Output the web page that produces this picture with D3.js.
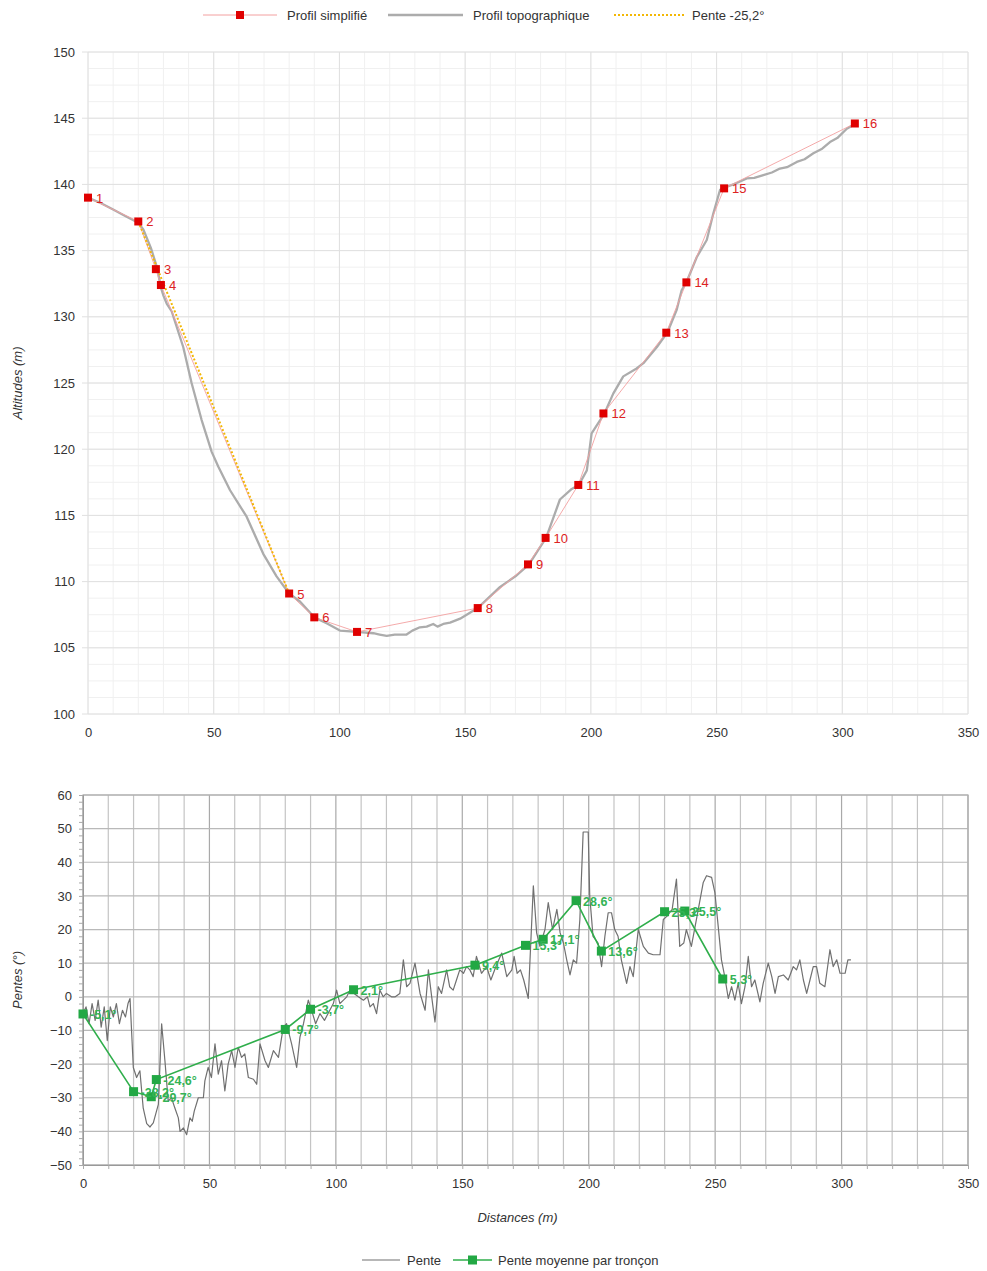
<!DOCTYPE html>
<html lang="fr">
    <head>
        <meta charset="utf-8">
        <title>Profil et pentes</title>
        <script src="https://d3js.org/d3.v7.min.js"></script>
        <style>
        body { margin: 0; background: #fff; }
        svg { font-family: "Liberation Sans", Arial, sans-serif; }
        .axis path { stroke: none; }
        .axis text { font-size: 13px; fill: #333; }
        .title { font-size: 13px; font-style: italic; fill: #333; }
        .legend text { font-size: 13px; fill: #333; }
        </style>
    </head>
    <body>
        <script>
        // points du profil simplifie (numerotes 1 a 16)
        const pointDist = [0, 20, 27, 29, 80, 90, 107, 155, 175, 182, 195, 205, 230, 238, 253, 305]
        const pointAlt = [139.0, 137.2, 133.6, 132.4, 109.1, 107.3, 106.2, 108.0, 111.3, 113.3, 117.3, 122.7, 128.8, 132.6, 139.7, 144.6]

        // profil topographique
        const topoDist = [0, 5, 10, 15, 20, 22, 25, 27, 28, 29, 30, 31.3, 33.3, 37.9, 41.2, 45.2, 49.2, 51.8, 56.5, 63.1, 69.7, 75, 80,
          84.3, 90, 94.9, 100.2, 107, 113.5, 116, 118.8, 122, 126.7, 129, 132, 134.7, 137.3, 139, 141.3, 144, 148, 155, 163.9, 170,
          175.4, 179.8, 182.2, 187.7, 192.4, 195.2, 198.4, 200.3, 203.7, 205.4, 208.9, 212.9, 218.2, 220.9, 226.2, 230.4, 234.1,
          236.1, 238.1, 242.1, 246.1, 248.7, 251.4, 253.1, 258, 262, 265, 268.6, 272, 275.2, 278, 281.9, 285, 288.5, 292, 295.1, 298, 301.8, 305.5]
        const topoAlt = [139.0, 138.6, 138.1, 137.6, 137.1, 136.6, 135.2, 134.0, 133.2, 132.2, 131.6, 131.0, 130.4, 127.7, 125.0, 122.2, 119.8, 118.7, 116.9, 114.9, 112.1, 110.4, 109.1,
          108.5, 107.3, 106.85, 106.3, 106.2, 106.1, 106.0, 105.9, 106.0, 106.0, 106.3, 106.55, 106.6, 106.8, 106.6, 106.8, 106.9, 107.2, 108.0, 109.6, 110.4,
          111.3, 112.6, 113.3, 116.2, 117.0, 117.3, 118.4, 121.2, 122.2, 122.7, 124.2, 125.5, 126.1, 126.5, 127.7, 128.8, 130.5,
          132.0, 132.65, 134.5, 135.8, 137.8, 139.6, 139.75, 140.1, 140.45, 140.5, 140.7, 140.9, 141.2, 141.3, 141.7, 141.9, 142.35, 142.7, 143.2, 143.5, 144.2, 144.6]

        // pente locale
        const slopeDist = [0, 1.2, 2.4, 3.6, 4.8, 6, 7.2, 8.4, 9.6, 10.8, 12, 13.2, 14.4, 15.6, 16.8, 17.8, 18.6, 19.9, 21.2, 22.5,
          23.8, 25.2, 26.5, 27.8, 29.8, 31.1, 32.4, 33.7, 35, 36.3, 37.7, 38.4, 39.7, 41, 42.3, 43.2, 44, 45.6, 47.6, 48.2,
          49.5, 50.8, 52.2, 53.5, 54.8, 56.1, 57.4, 58.8, 60.1, 61.4, 62.7, 64, 65.4, 67.4, 68.7, 70, 72, 73.3, 75.3, 77.3,
          79.2, 80.5, 82.5, 84.5, 85.8, 87.2, 89.1, 90.4, 92, 93.7, 95.5, 97.6, 99, 100.3, 101.6, 103, 104.3, 105.6, 107.2, 108.9,
          110.9, 112.5, 113.5, 114.8, 116.1, 117.4, 118.7, 120, 122, 123.5, 125.3, 126.7, 128, 129.3, 131.3, 133.3, 135.3, 136.6, 137.9, 139.2,
          140.5, 141.8, 143.8, 145, 146.4, 147.7, 149, 150.5, 151.7, 153, 154.3, 155.6, 157.6, 159.6, 161.3, 163.3, 165.6, 167.6, 169.6, 170.5,
          171.7, 173, 174.3, 176.1, 178.1, 179.4, 180.7, 182.7, 184, 185.7, 187.4, 188.7, 190, 191.3, 192.6, 193.9, 195.2, 196.5, 197.8, 199.8,
          200.4, 201.7, 203.7, 205.1, 206.4, 207.7, 209, 210.3, 211.6, 212.9, 215, 216.3, 217.6, 219.6, 221.6, 223.6, 225.5, 228.2, 229.5, 231,
          233, 234.7, 236, 237.6, 238.6, 240.6, 242.6, 245.3, 246.6, 248.6, 249.9, 251.2, 252.5, 253.8, 255.2, 256.5, 257.8, 259.1, 260.4, 261.8,
          263.1, 264.4, 265.7, 267.7, 269, 271, 272.4, 273.7, 275, 277, 278.9, 280.9, 282.2, 283.5, 284.9, 286.2, 287.5, 288.8, 290.1, 291.4,
          293.4, 295.4, 296.7, 298.1, 299.4, 301.4, 302.5, 303.7]
        const slopeVal = [-5, -3, -8, -2, -7, -1, -9, -3, -13, -3, -6, -2, -8, -4, -6, -2, -0.5, -21, -24, -22,
          -33, -37.7, -38.7, -37.5, -32, -8, -19, -31, -30, -33, -36, -40, -39, -41, -36, -37, -34, -30, -30, -25,
          -21, -24, -14, -23, -19, -28, -20, -16, -21, -15, -18, -17, -24, -24.5, -26, -14, -19, -21, -16, -18,
          -9, -8, -14, -21, -12, -8, -1, -4, -8, -5, -7, -4, -2, 2, -2, -1, 0, 2, 1, 0,
          -1, 0, -3, -2, -5, 2, 0, 1, 0, 0, 1, 11, 3, 4, 10, 1, -4, 8, 0, -7.5,
          3, 1, 8, 3, 2, 5, 8, 7, 9, 8, 6, 12, 7, 9, 5, 9, 13, 6, 8, 12,
          7, 8, 5, -0.5, 33, 19, 15, 20, 28, 20, 26, 19, 16, 11, 6.5, 11, 10, 23, 49, 49,
          30, 18, 16, 9, 18, 25, 25, 20, 18, 11, 4, 9, 6, 20, 15, 13, 12.5, 12.5, 23, 24,
          26, 35, 15, 16, 20, 15, 23, 34, 36, 35.5, 31, 21, 11, 6, -0.5, 3, -1, 4, -2, 3,
          12, 3, 5, -1.5, 4, 10, 6, 1, 6, 6.5, 5, 9, 8, 11, 5, 1, 5, 9, 9, 4,
          3, 14, 9, 11, 7, 7, 11, 11]

        // pente moyenne par troncon (depart de chaque troncon)
        const meanSlope = [-5.1, -28.2, -29.7, -24.6, -9.7, -3.7, 2.1, 9.4, 15.3, 17.1, 28.6, 13.6, 25.3, 25.5, 5.3]

        // droite de pente entre les points 2 et 5
        const refFrom = 1
        const refTo = 4
        const refLabel = "Pente -25,2°"

        const xTicks = [0, 50, 100, 150, 200, 250, 300, 350]
        const altTicks = [100, 105, 110, 115, 120, 125, 130, 135, 140, 145, 150]
        const slopeTicks = [-50, -40, -30, -20, -10, 0, 10, 20, 30, 40, 50, 60]

        const fmt = v => v.toFixed(1).replace(".", ",") + "°"

        const w = 987, h = 1271
        const svg = d3.select("body").append("svg").attr("width", w).attr("height", h)

        // ---------- graphique du haut ----------
        const xTop = d3.scaleLinear().domain([0, 350]).range([88, 968])
        const yTop = d3.scaleLinear().domain([100, 150]).range([714, 52])

        const gTop = svg.append("g")
        // grille mineure
        gTop.append("g").selectAll("line.vx").data(d3.range(0, 351, 10)).join("line")
          .attr("x1", d => xTop(d)).attr("x2", d => xTop(d)).attr("y1", yTop(100)).attr("y2", yTop(150))
          .attr("stroke", "#f0f0f0")
        gTop.append("g").selectAll("line").data(d3.range(100, 150.1, 1.25)).join("line")
          .attr("x1", xTop(0)).attr("x2", xTop(350)).attr("y1", d => yTop(d)).attr("y2", d => yTop(d))
          .attr("stroke", "#f0f0f0")
        // grille majeure
        gTop.append("g").selectAll("line").data(xTicks).join("line")
          .attr("x1", d => xTop(d)).attr("x2", d => xTop(d)).attr("y1", yTop(100)).attr("y2", yTop(150))
          .attr("stroke", "#e0e0e0")
        gTop.append("g").selectAll("line").data(altTicks).join("line")
          .attr("x1", xTop(0) - 6).attr("x2", xTop(350)).attr("y1", d => yTop(d)).attr("y2", d => yTop(d))
          .attr("stroke", "#e0e0e0")

        gTop.append("g").attr("class", "axis")
          .attr("transform", "translate(0," + yTop(100) + ")")
          .call(d3.axisBottom(xTop).tickValues(xTicks).tickSize(0).tickPadding(14))
        gTop.append("g").attr("class", "axis")
          .attr("transform", "translate(" + xTop(0) + ",0)")
          .call(d3.axisLeft(yTop).tickValues(altTicks).tickSize(6).tickPadding(7))
          .selectAll("line").attr("stroke", "none")

        svg.append("text").attr("class", "title")
          .attr("transform", "translate(22," + yTop(125) + ") rotate(-90)")
          .attr("text-anchor", "middle").text("Altitudes (m)")

        const lineTop = d3.line().x(d => xTop(d[0])).y(d => yTop(d[1]))

        gTop.append("path")
          .datum(d3.zip(topoDist, topoAlt))
          .attr("d", lineTop)
          .attr("fill", "none").attr("stroke", "#acacac").attr("stroke-width", 2.3)
          .attr("stroke-linejoin", "round")

        const simple = d3.zip(pointDist, pointAlt)
        gTop.append("path")
          .datum(simple)
          .attr("d", lineTop)
          .attr("fill", "none").attr("stroke", "#f3a0a0").attr("stroke-width", 0.9)

        gTop.append("path")
          .datum([simple[refFrom], simple[refTo]])
          .attr("d", lineTop)
          .attr("fill", "none").attr("stroke", "#f2b705").attr("stroke-width", 2)
          .attr("stroke-dasharray", "2,2")

        gTop.selectAll("rect.pt").data(simple).join("rect")
          .attr("x", d => xTop(d[0]) - 4).attr("y", d => yTop(d[1]) - 4)
          .attr("width", 8).attr("height", 8).attr("fill", "#e00000")

        gTop.selectAll("text.pt").data(simple).join("text")
          .attr("x", d => xTop(d[0]) + 8).attr("y", d => yTop(d[1]) + 5)
          .attr("font-size", "13px").attr("fill", "#dd2222")
          .text((d, i) => i + 1)

        // legende du haut
        const legTop = svg.append("g").attr("class", "legend")
        legTop.append("line").attr("x1", 203).attr("x2", 277).attr("y1", 15).attr("y2", 15)
          .attr("stroke", "#f3a0a0").attr("stroke-width", 1)
        legTop.append("rect").attr("x", 236).attr("y", 11).attr("width", 8).attr("height", 8).attr("fill", "#e00000")
        legTop.append("text").attr("x", 287).attr("y", 19.5).text("Profil simplifié")
        legTop.append("line").attr("x1", 388).attr("x2", 463).attr("y1", 15).attr("y2", 15)
          .attr("stroke", "#acacac").attr("stroke-width", 2.3)
        legTop.append("text").attr("x", 473).attr("y", 19.5).text("Profil topographique")
        legTop.append("line").attr("x1", 614).attr("x2", 686).attr("y1", 15).attr("y2", 15)
          .attr("stroke", "#f2b705").attr("stroke-width", 2).attr("stroke-dasharray", "2,2")
        legTop.append("text").attr("x", 692).attr("y", 19.5).text(refLabel)

        // ---------- graphique du bas ----------
        const xBot = d3.scaleLinear().domain([0, 350]).range([83, 968])
        const yBot = d3.scaleLinear().domain([-50, 60]).range([1165, 795])

        const gBot = svg.append("g")
        gBot.append("g").selectAll("line").data(d3.range(0, 351, 10)).join("line")
          .attr("x1", d => xBot(d)).attr("x2", d => xBot(d)).attr("y1", yBot(-50)).attr("y2", yBot(60))
          .attr("stroke", d => d % 50 === 0 ? "#a9a9a9" : "#c4c4c4").attr("stroke-width", 1.2)
        gBot.append("g").selectAll("line").data(slopeTicks).join("line")
          .attr("x1", xBot(0)).attr("x2", xBot(350)).attr("y1", d => yBot(d)).attr("y2", d => yBot(d))
          .attr("stroke", "#b9b9b9").attr("stroke-width", 1.2)
        gBot.append("rect")
          .attr("x", xBot(0)).attr("y", yBot(60)).attr("width", xBot(350) - xBot(0)).attr("height", yBot(-50) - yBot(60))
          .attr("fill", "none").attr("stroke", "#b0b0b0").attr("stroke-width", 1.2)

        // petites graduations des axes
        gBot.append("g").attr("transform", "translate(" + xBot(0) + ",0)")
          .call(d3.axisLeft(yBot).tickValues(d3.range(-50, 60.1, 2)).tickSize(4).tickFormat(""))
          .call(g => g.select("path").attr("stroke", "#999"))
          .selectAll("line").attr("stroke", "#aaa")
        gBot.append("g").attr("transform", "translate(0," + yBot(-50) + ")")
          .call(d3.axisBottom(xBot).tickValues(d3.range(0, 351, 10)).tickSize(4).tickFormat(""))
          .call(g => g.select("path").attr("stroke", "#999"))
          .selectAll("line").attr("stroke", "#aaa")

        gBot.append("g").attr("class", "axis")
          .attr("transform", "translate(0," + yBot(-50) + ")")
          .call(d3.axisBottom(xBot).tickValues(xTicks).tickSize(0).tickPadding(14))
        gBot.append("g").attr("class", "axis")
          .attr("transform", "translate(" + xBot(0) + ",0)")
          .call(d3.axisLeft(yBot).tickValues(slopeTicks).tickSize(0).tickPadding(11))

        svg.append("text").attr("class", "title")
          .attr("transform", "translate(22," + yBot(5) + ") rotate(-90)")
          .attr("text-anchor", "middle").text("Pentes (°)")
        svg.append("text").attr("class", "title")
          .attr("x", (xBot(0) + xBot(350)) / 2 - 8).attr("y", 1222)
          .attr("text-anchor", "middle").text("Distances (m)")

        const lineBot = d3.line().x(d => xBot(d[0])).y(d => yBot(d[1]))

        gBot.append("path")
          .datum(d3.zip(slopeDist, slopeVal))
          .attr("d", lineBot)
          .attr("fill", "none").attr("stroke", "#707070").attr("stroke-width", 1.2)
          .attr("stroke-linejoin", "round")

        const means = meanSlope.map((v, i) => [pointDist[i], v])
        gBot.append("path")
          .datum(means)
          .attr("d", lineBot)
          .attr("fill", "none").attr("stroke", "#2fae4b").attr("stroke-width", 1.6)

        gBot.selectAll("rect.m").data(means).join("rect")
          .attr("x", d => xBot(d[0]) - 4.5).attr("y", d => yBot(d[1]) - 4.5)
          .attr("width", 9).attr("height", 9).attr("fill", "#22a844")

        // les etiquettes se chevauchent comme dans l'original
        gBot.selectAll("text.m").data(means).join("text")
          .attr("x", d => xBot(d[0]) + 7).attr("y", d => yBot(d[1]) + 5)
          .attr("font-size", "12.5px").attr("font-weight", "bold").attr("fill", "#33b355")
          .text(d => fmt(d[1]))

        // legende du bas
        const legBot = svg.append("g").attr("class", "legend")
        legBot.append("line").attr("x1", 362).attr("x2", 400).attr("y1", 1260).attr("y2", 1260)
          .attr("stroke", "#707070").attr("stroke-width", 1.2)
        legBot.append("text").attr("x", 407).attr("y", 1264.5).text("Pente")
        legBot.append("line").attr("x1", 453).attr("x2", 492).attr("y1", 1260).attr("y2", 1260)
          .attr("stroke", "#2fae4b").attr("stroke-width", 1.6)
        legBot.append("rect").attr("x", 468).attr("y", 1255.5).attr("width", 9).attr("height", 9).attr("fill", "#22a844")
        legBot.append("text").attr("x", 498).attr("y", 1264.5).text("Pente moyenne par tronçon")
        </script>
    </body>
</html>
